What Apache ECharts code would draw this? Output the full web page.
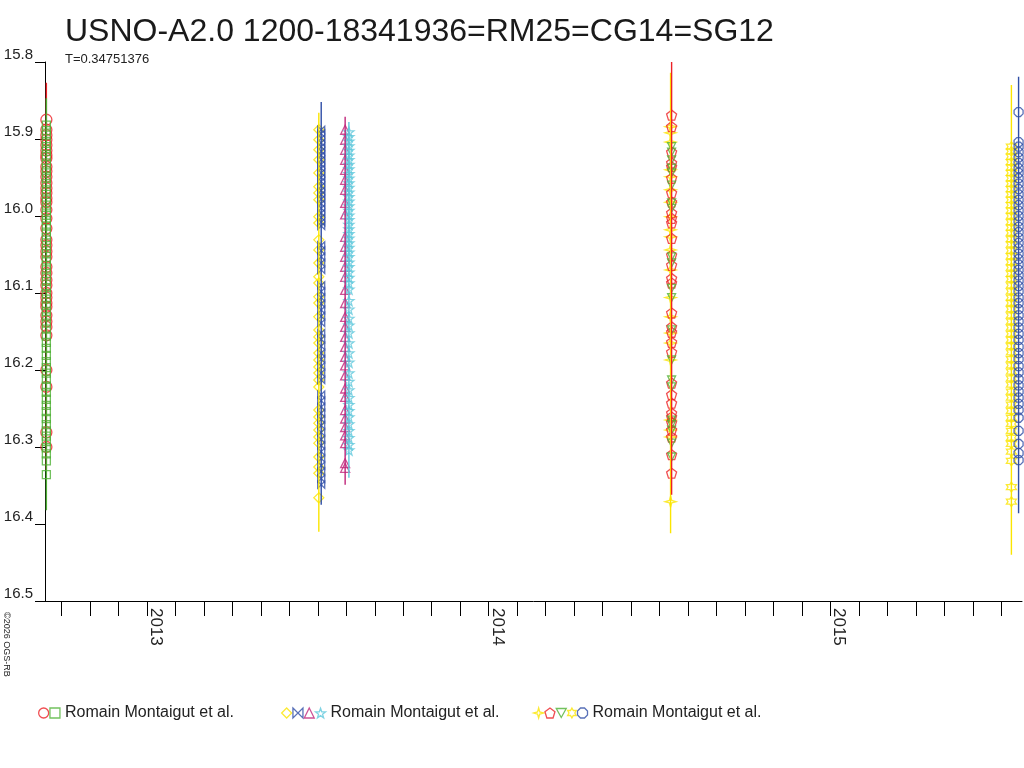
<!DOCTYPE html>
<html>
<head>
<meta charset="utf-8">
<title>USNO-A2.0 1200-18341936</title>
<script src="https://cdn.jsdelivr.net/npm/echarts@6/dist/echarts.min.js"></script>
<style>
    html, body { margin: 0; padding: 0; background: #fff; }
    #light_curve { width: 1024px; height: 768px; }
</style>
</head>
<body>
<div id="light_curve"></div>
<script>

// Observation dates (decimal year), one night per series
var dateRedCircle = 2012.706;
var dateGreenSquare = 2012.706;
var dateYellowDiamond = 2013.503;
var dateBlueBowtie = 2013.510;
var dateMagentaTriangle = 2013.580;
var dateCyanStar = 2013.591;
var dateYellowCross = 2014.532;
var dateRedPentagon = 2014.535;
var dateGreenDown = 2014.535;
var dateYellowStar6 = 2015.529;
var dateBlueHexagon = 2015.550;

// Magnitudes
var magRedCircle = [15.875, 15.888, 15.895, 15.901, 15.908, 15.915, 15.921, 15.925, 15.936, 15.942, 15.949, 15.957,
    15.964, 15.970, 15.977, 15.982, 15.992, 16.003, 16.016, 16.031, 16.038, 16.046, 16.053, 16.066, 16.074, 16.083,
    16.090, 16.100, 16.106, 16.113, 16.118, 16.129, 16.137, 16.144, 16.155, 16.200, 16.222, 16.281, 16.300];
var magGreenSquare = [15.882, 15.889, 15.895, 15.903, 15.910, 15.916, 15.923, 15.931, 15.938, 15.944, 15.951, 15.958,
    15.966, 15.972, 15.979, 15.986, 15.993, 15.999, 16.006, 16.013, 16.021, 16.028, 16.035, 16.042, 16.049, 16.057,
    16.064, 16.070, 16.078, 16.085, 16.093, 16.101, 16.108, 16.116, 16.124, 16.131, 16.139, 16.147, 16.156, 16.164,
    16.172, 16.181, 16.189, 16.197, 16.204, 16.212, 16.221, 16.229, 16.238, 16.246, 16.254, 16.263, 16.271, 16.279,
    16.286, 16.293, 16.301, 16.309, 16.318, 16.336];
var magYellowDiamond = [15.888, 15.901, 15.914, 15.927, 15.944, 15.962, 15.970, 15.979, 16.001, 16.009, 16.031, 16.044,
    16.061, 16.079, 16.087, 16.105, 16.113, 16.131, 16.148, 16.157, 16.165, 16.178, 16.187, 16.196, 16.204, 16.213,
    16.222, 16.252, 16.261, 16.269, 16.278, 16.287, 16.295, 16.313, 16.326, 16.334, 16.366];
var magBlueBowtie = [15.888, 15.893, 15.899, 15.905, 15.910, 15.916, 15.921, 15.927, 15.933, 15.938, 15.944, 15.950,
    15.955, 15.961, 15.967, 15.972, 15.978, 15.984, 15.990, 15.996, 16.002, 16.008, 16.013, 16.038, 16.045, 16.053,
    16.061, 16.070, 16.090, 16.098, 16.106, 16.114, 16.122, 16.130, 16.139, 16.152, 16.160, 16.169, 16.178, 16.186,
    16.195, 16.204, 16.213, 16.232, 16.240, 16.248, 16.256, 16.264, 16.272, 16.281, 16.290, 16.298, 16.306, 16.315,
    16.324, 16.332, 16.341, 16.349];
var magMagentaTriangle = [15.888, 15.901, 15.914, 15.927, 15.940, 15.953, 15.966, 15.983, 15.998, 16.027, 16.040,
    16.053, 16.066, 16.079, 16.096, 16.113, 16.131, 16.144, 16.157, 16.170, 16.183, 16.194, 16.207, 16.224, 16.235,
    16.252, 16.263, 16.274, 16.285, 16.295, 16.321, 16.327];
var magCyanStar = [15.891, 15.897, 15.903, 15.909, 15.915, 15.921, 15.927, 15.933, 15.939, 15.945, 15.951, 15.957,
    15.963, 15.969, 15.975, 15.981, 15.987, 15.993, 15.999, 16.005, 16.011, 16.017, 16.023, 16.029, 16.035, 16.041,
    16.047, 16.053, 16.060, 16.066, 16.073, 16.080, 16.087, 16.095, 16.110, 16.121, 16.133, 16.142, 16.152, 16.165,
    16.178, 16.190, 16.204, 16.215, 16.226, 16.236, 16.245, 16.253, 16.261, 16.270, 16.279, 16.288, 16.297, 16.304];
var magYellowCross = [15.884, 15.892, 15.904, 15.940, 15.949, 15.966, 15.982, 16.001, 16.018, 16.027, 16.044, 16.070,
    16.106, 16.131, 16.152, 16.165, 16.187, 16.265, 16.278, 16.287, 16.371];
var magRedPentagon = [15.869, 15.884, 15.917, 15.931, 15.936, 15.951, 15.970, 15.982, 15.996, 16.003, 16.009, 16.029,
    16.051, 16.064, 16.081, 16.087, 16.126, 16.144, 16.151, 16.164, 16.177, 16.217, 16.232, 16.243, 16.256, 16.261,
    16.268, 16.278, 16.287, 16.310, 16.334];
var magGreenDown = [15.910, 15.917, 15.927, 15.938, 15.944, 15.960, 15.983, 15.990, 16.053, 16.061, 16.094, 16.106,
    16.148, 16.187, 16.213, 16.222, 16.265, 16.271, 16.278, 16.295, 16.313];
var magYellowStar6 = [15.910, 15.916, 15.923, 15.930, 15.937, 15.944, 15.951, 15.958, 15.965, 15.972, 15.979, 15.986,
    15.993, 16.000, 16.008, 16.015, 16.022, 16.030, 16.037, 16.045, 16.052, 16.060, 16.067, 16.075, 16.082, 16.090,
    16.098, 16.106, 16.113, 16.121, 16.129, 16.137, 16.145, 16.153, 16.161, 16.169, 16.177, 16.186, 16.194, 16.202,
    16.211, 16.219, 16.228, 16.236, 16.245, 16.253, 16.262, 16.270, 16.279, 16.288, 16.296, 16.306, 16.318, 16.352,
    16.371];
var magBlueHexagon = [15.865, 15.904, 15.910, 15.917, 15.924, 15.931, 15.938, 15.944, 15.951, 15.958, 15.965, 15.972,
    15.979, 15.986, 15.993, 16.000, 16.007, 16.014, 16.021, 16.028, 16.035, 16.042, 16.049, 16.056, 16.063, 16.070,
    16.077, 16.084, 16.091, 16.098, 16.106, 16.113, 16.121, 16.129, 16.137, 16.145, 16.153, 16.161, 16.170, 16.178,
    16.186, 16.195, 16.203, 16.212, 16.220, 16.228, 16.236, 16.244, 16.252, 16.262, 16.279, 16.296, 16.308, 16.317];

// Error bar extents [bright, faint]
var barRedCircle = [15.827, 16.330];
var barGreenSquare = [15.847, 16.382];
var barYellowDiamond = [15.866, 16.410];
var barBlueBowtie = [15.852, 16.375];
var barMagentaTriangle = [15.871, 16.349];
var barCyanStar = [15.878, 16.340];
var barYellowCross = [15.814, 16.412];
var barRedPentagon = [15.800, 16.362];
var barYellowStar6 = [15.830, 16.440];
var barBlueHexagon = [15.819, 16.386];

// Axis ticks
var yearLabels = [2013, 2014, 2015];
var monthTicks = [];
for (var yr = 2012; yr <= 2015; yr++) {
    for (var m = 0; m < 12; m++) {
        var t = yr + m / 12;
        if (t > 2012.71 && t < 2015.55) monthTicks.push(t);
    }
}

var legendText = 'Romain Montaigut et al.';

// Symbols
var symBowtie = 'path://M0,0 L10,10 L10,0 L0,10 Z';
var symStar5 = 'path://M5,0 L6.2,3.6 L10,3.7 L7,6 L8.1,9.6 L5,7.4 L1.9,9.6 L3,6 L0,3.7 L3.8,3.6 Z';
var symCross4 = 'path://M5,0 L6.1,3.9 L10,5 L6.1,6.1 L5,10 L3.9,6.1 L0,5 L3.9,3.9 Z';
var symPentagon = 'path://M5,0 L10,3.8 L8.1,10 L1.9,10 L0,3.8 Z';
var symDown = 'path://M0,0 L10,0 L5,9 Z';
var symStar6 = 'path://M5,0 L6.4,2.5 L9.3,2.5 L7.9,5 L9.3,7.5 L6.4,7.5 L5,10 L3.6,7.5 L0.7,7.5 L2.1,5 L0.7,2.5 L3.6,2.5 Z';
var symHexagon = 'path://M3,0 L7,0 L10,3 L10,7 L7,10 L3,10 L0,7 L0,3 Z';

var RED = '#ec2227', GREEN = '#4fb136', YELLOW = '#fbe500', BLUE = '#2f4ea6', MAGENTA = '#c0257a', CYAN = '#5fc8dc';

// name, symbol, size, colour, date, values, bar
var defs = [
    ['s1', 'circle', 11, RED, dateRedCircle, magRedCircle, barRedCircle],
    ['s2', 'rect', 8, GREEN, dateGreenSquare, magGreenSquare, barGreenSquare],
    ['s3', 'diamond', 10, YELLOW, dateYellowDiamond, magYellowDiamond, barYellowDiamond],
    ['s4', symBowtie, 7, BLUE, dateBlueBowtie, magBlueBowtie, barBlueBowtie],
    ['s5', 'triangle', 9, MAGENTA, dateMagentaTriangle, magMagentaTriangle, barMagentaTriangle],
    ['s6', symStar5, 10, CYAN, dateCyanStar, magCyanStar, barCyanStar],
    ['s7', symCross4, 11, YELLOW, dateYellowCross, magYellowCross, barYellowCross],
    ['s8', symPentagon, 10, RED, dateRedPentagon, magRedPentagon, barRedPentagon],
    ['s9', symDown, 8, GREEN, dateGreenDown, magGreenDown, null],
    ['s10', symStar6, 10, YELLOW, dateYellowStar6, magYellowStar6, barYellowStar6],
    ['s11', symHexagon, 9, BLUE, dateBlueHexagon, magBlueHexagon, barBlueHexagon]
];

var element = document.getElementById('light_curve');
var chart = echarts.init(element);

var series = [];
var legendItems = {};
defs.forEach(function (d) {
    series.push({
        name: d[0],
        type: 'scatter',
        symbol: d[1],
        symbolSize: d[2],
        itemStyle: { color: 'rgba(255,255,255,0)', borderColor: d[3], borderWidth: 1.3 },
        data: d[5].map(function (v) { return [d[4], v]; }),
        z: 2
    });
    if (d[6]) {
        series.push({
            type: 'line',
            symbol: 'none',
            itemStyle: { color: d[3] },
            lineStyle: { color: d[3], width: 1.4 },
            data: [[d[4], d[6][0]], [d[4], d[6][1]]],
            z: 3
        });
    }
    legendItems[d[0]] = {
        name: d[0],
        icon: d[1],
        itemStyle: { color: 'rgba(255,255,255,0)', borderColor: d[3], borderWidth: 1.3 }
    };
});

function legendGroup(names, left) {
    return {
        left: left,
        top: 705,
        padding: 0,
        itemWidth: 10,
        itemHeight: 10,
        itemGap: 0,
        selectedMode: false,
        data: names.map(function (n) { return legendItems[n]; }),
        formatter: function (name) { return name === names[names.length - 1] ? legendText : ''; },
        textStyle: { fontSize: 16, color: '#222', fontFamily: 'Liberation Sans, Arial, sans-serif' }
    };
}

chart.setOption({
    animation: false,
    textStyle: { fontFamily: 'Liberation Sans, Arial, sans-serif' },

    title: [
        {
            text: 'USNO-A2.0 1200-18341936=RM25=CG14=SG12',
            left: 60,
            top: 11,
            textStyle: { fontSize: 32, fontWeight: 'normal', color: '#1a1a1a' }
        },
        {
            text: 'T=0.34751376',
            left: 60,
            top: 48,
            textStyle: { fontSize: 13, fontWeight: 'normal', color: '#222' }
        }
    ],

    legend: [
        legendGroup(['s1', 's2'], 38),
        legendGroup(['s3', 's4', 's5', 's6'], 281),
        legendGroup(['s7', 's8', 's9', 's10', 's11'], 533)
    ],

    grid: { left: 45, right: 2, top: 62, bottom: 167 },

    xAxis: {
        type: 'value',
        min: 2012.702,
        max: 2015.56,
        axisLine: { lineStyle: { color: '#000', width: 1 } },
        axisTick: { customValues: monthTicks, length: 15, lineStyle: { color: '#000' } },
        axisLabel: {
            customValues: yearLabels,
            rotate: -90,
            margin: 7,
            fontSize: 17,
            color: '#222',
            verticalAlign: 'bottom',
            formatter: function (v) { return String(Math.round(v)); }
        },
        splitLine: { show: false }
    },

    yAxis: {
        type: 'value',
        inverse: true,
        min: 15.8,
        max: 16.5,
        interval: 0.1,
        axisLine: { show: true, lineStyle: { color: '#000', width: 1 } },
        axisTick: { show: true, length: 10, lineStyle: { color: '#000' } },
        axisLabel: {
            fontSize: 15,
            color: '#222',
            margin: 12,
            verticalAlign: 'bottom',
            formatter: function (v) { return v.toFixed(1); }
        },
        splitLine: { show: false }
    },

    graphic: [
        {
            type: 'text',
            x: 11,
            y: 612,
            rotation: -Math.PI / 2,
            style: { text: '\u00a92026 OGS-RB', fontSize: 9, fill: '#222', fontFamily: 'Liberation Sans, Arial, sans-serif' }
        }
    ],

    series: series
});

window.addEventListener('resize', function () {
    chart.resize();
});
</script>
</body>
</html>
